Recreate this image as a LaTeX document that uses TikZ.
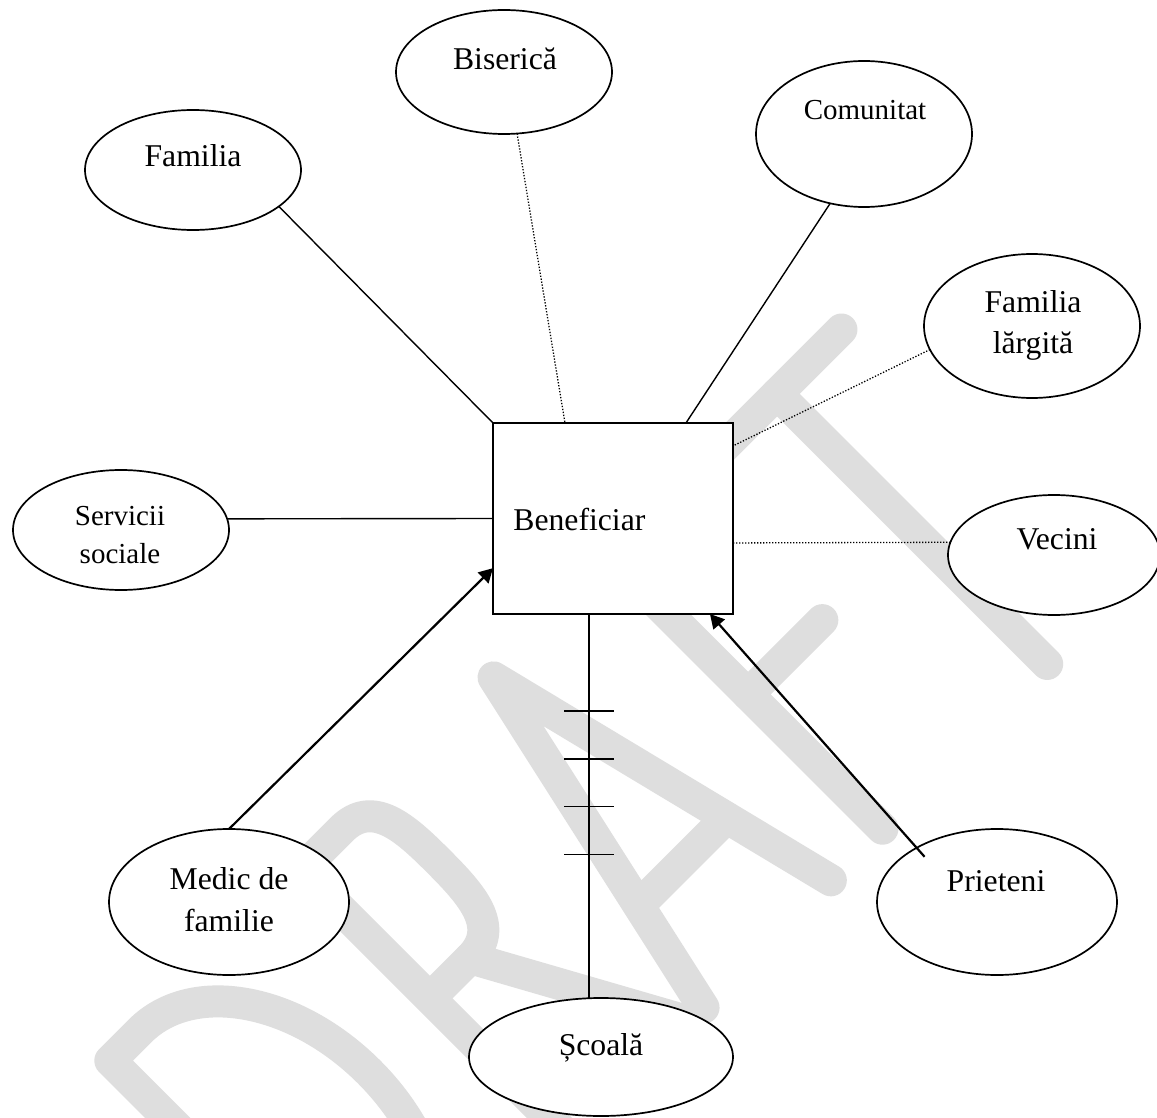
\documentclass[tikz,border=0pt]{standalone}
\usepackage{fontspec}
\setmainfont{Liberation Serif}
\usetikzlibrary{shapes.geometric,arrows.meta,calc}
\definecolor{wmgray}{RGB}{222,222,222}
\begin{document}
\begin{tikzpicture}[x=0.5pt,y=-0.5pt,
  bubble/.style={draw,ellipse,line width=0.85pt,fill=white,inner sep=0pt,outer sep=0pt},
  centerbox/.style={draw,line width=1pt,fill=white,inner sep=0pt,outer sep=0pt},
  lbl/.style={anchor=base,inner sep=0pt,font=\fontsize{15.85}{21}\selectfont},
  lblsmall/.style={anchor=base,inner sep=0pt,font=\fontsize{14.5}{19}\selectfont},
  solidlink/.style={line width=0.7pt},
  vlink/.style={line width=0.85pt},
  dotlink/.style={line width=0.65pt,dash pattern=on 0.65pt off 0.85pt},
  arrowlink/.style={line width=1.1pt,-{Triangle[length=7pt,width=7.5pt]}},
  wm/.style={draw=wmgray,line width=16pt,line cap=round,line join=round}
]
\useasboundingbox (0,0) rectangle (1157,1118);
\fill[white] (0,0) rectangle (1157,1118);

% watermark
\begin{scope}
\clip (0,0) rectangle (1157,1118);
\begin{scope}[x={(0.35355pt,0.35355pt)},y={(-0.35355pt,0.35355pt)}]
  % D
  \draw[wm] (-672,-828) -- (-630,-828) .. controls (-556.5,-828) and (-497,-913.5) .. (-497,-1019)
            .. controls (-497,-1124.5) and (-556.5,-1210) .. (-630,-1210) -- (-672,-1210) -- cycle;
  % R
  \draw[wm] (-402,-1210) -- (-402,-828) -- (-345,-828) .. controls (-301,-828) and (-299,-872) .. (-299,-918)
            .. controls (-299,-966) and (-301,-1010) .. (-345,-1010) -- (-402,-1010);
  \draw[wm] (-345,-1010) -- (-235,-1210);
  % A
  \draw[wm] (-215,-1210) -- (-130,-828) -- (-35,-1210);
  \draw[wm] (-188,-1092) -- (-65,-1092);
  % F
  \draw[wm] (38,-1210) -- (38,-828) -- (180,-828);
  \draw[wm] (38,-1020) -- (143,-1020);
  % T
  \draw[wm] (180,-828) -- (362,-828);
  \draw[wm] (271,-828) -- (271,-1210);
\end{scope}
\end{scope}

% ellipses
\node[bubble,minimum width=108pt,minimum height=62pt] (bis) at (504,72) {};
\node[bubble,minimum width=108pt,minimum height=60pt] (fam) at (193,170) {};
\node[bubble,minimum width=108pt,minimum height=73pt] (com) at (864,134) {};
\node[bubble,minimum width=108pt,minimum height=72pt] (fl) at (1032,326) {};
\node[bubble,minimum width=106pt,minimum height=60pt] (vec) at (1054,555) {};
\node[bubble,minimum width=108pt,minimum height=60pt] (ser) at (121,530) {};
\node[bubble,minimum width=120pt,minimum height=73pt] (med) at (229,902) {};
\node[bubble,minimum width=120pt,minimum height=73pt] (pri) at (997,902) {};
\node[bubble,minimum width=132pt,minimum height=59pt] (sc) at (601,1057) {};

% central box
\node[centerbox,minimum width=120pt,minimum height=95.5pt] (ben) at (613,518.5) {};

% labels
\node[lbl] (bisT) at (505,70) {Biserică};
\node[lbl] (famT) at (193,167) {Familia};
\node[lblsmall] (comT) at (865,120) {Comunitat};
\node[lbl] (flT1) at (1033,313) {Familia};
\node[lbl] (flT2) at (1033,354) {lărgită};
\node[lbl] (vecT) at (1057,549) {Vecini};
\node[lblsmall] (serT1) at (120,525) {Servicii};
\node[lblsmall] (serT2) at (120,563) {sociale};
\node[lbl,anchor=base west] (benT) at (513,530) {Beneficiar};
\node[lbl] (medT1) at (229,889) {Medic de};
\node[lbl] (medT2) at (229,931) {familie};
\node[lbl] (priT) at (996,891) {Prieteni};
\node[lbl] (scT) at (601,1055) {Școală};

% connectors
\draw[solidlink] (fam.-23.5) -- (ben.north west);
\draw[dotlink] (bis.-78) -- ($(ben.north west)!0.3!(ben.north east)$);
\draw[solidlink] (com.-116) -- ($(ben.north west)!0.804!(ben.north east)$);
\draw[dotlink] (fl.193) -- ($(ben.north east)!0.12!(ben.south east)$);
\draw[dotlink] (vec.173.5) -- ($(ben.north east)!0.628!(ben.south east)$);
\draw[solidlink] (ser.6.3) -- (ben.west);
\draw[arrowlink] (med.90) -- ($(ben.south west)!0.24!(ben.north west)$);
\draw[arrowlink,shorten <=-6pt] (pri.146) -- ($(ben.south west)!0.904!(ben.south east)$);

\coordinate (sb) at ($(ben.south west)!0.4!(ben.south east)$);
\coordinate (st) at (sb |- sc.north);
\draw[vlink] (sb) -- (st);
\foreach \f [count=\i] in {0.252,0.377,0.501,0.626} {
  \coordinate (tick\i) at ($(sb)!\f!(st)$);
  \draw[vlink] ([xshift=-12.5pt]tick\i) -- ([xshift=12.5pt]tick\i);
}
\end{tikzpicture}
\end{document}
